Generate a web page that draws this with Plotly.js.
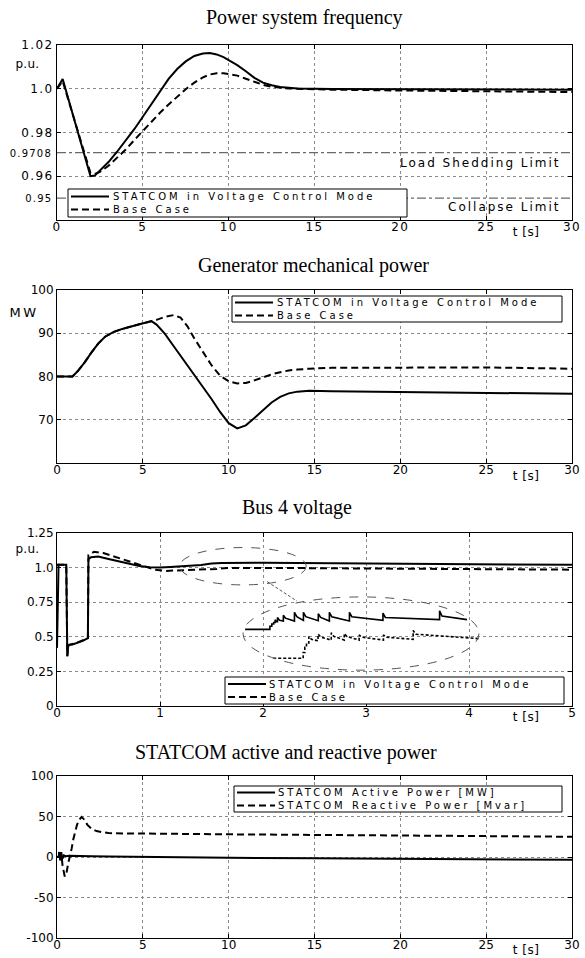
<!DOCTYPE html>
<html>
<head>
<meta charset="utf-8">
<script src="https://cdn.plot.ly/plotly-3.0.1.min.js"></script>
<style>
html,body{margin:0;padding:0;background:#fff;}
#chart{width:585px;height:958px;}
.xtick text, .ytick text { letter-spacing: 1.4px; }
</style>
</head>
<body>
<div id="chart"></div>
<script>
// ---------------- DATA ----------------
// Panel 1: Power system frequency (p.u.)
const freqT = [0, 0.15, 0.33, 0.6, 1.0, 1.4, 1.7, 1.95, 2.2, 2.5, 3.0, 3.5, 4.0, 4.5, 5.0, 5.5, 6.0, 6.5, 7.0, 7.5, 8.0, 8.5, 8.9, 9.3, 9.7, 10.1, 10.5, 11.0, 11.5, 12.0, 12.5, 13.0, 13.5, 14.0, 16.0, 20.0, 25.0, 30.0];
const freqStatcom = [1.0000, 1.0020, 1.0045, 0.9970, 0.9860, 0.9750, 0.9665, 0.9600, 0.9603, 0.9625, 0.9665, 0.9712, 0.9762, 0.9815, 0.9872, 0.9930, 0.9990, 1.0045, 1.0090, 1.0125, 1.0150, 1.0161, 1.0163, 1.0157, 1.0145, 1.0128, 1.0108, 1.0080, 1.0050, 1.0028, 1.0016, 1.0008, 1.0003, 1.0001, 0.9999, 0.9997, 0.9996, 0.9995];
const freqBase = [1.0000, 1.0018, 1.0035, 0.9965, 0.9860, 0.9752, 0.9672, 0.9615, 0.9610, 0.9620, 0.9648, 0.9685, 0.9722, 0.9765, 0.9808, 0.9850, 0.9890, 0.9928, 0.9964, 0.9998, 1.0028, 1.0052, 1.0065, 1.0071, 1.0071, 1.0066, 1.0060, 1.0046, 1.0032, 1.0018, 1.0009, 1.0004, 1.0001, 1.0000, 0.9996, 0.9992, 0.9988, 0.9985];
const limitValues = [0.9708, 0.95];
const limitLabels = ['Load Shedding Limit', 'Collapse Limit'];
const freqTicks = [0.96, 0.98, 1.0, 1.02];
const freqTickText = ['0.96', '0.98', '1.0', '1.02'];
const freqExtraTickText = ['0.9708', '0.95'];

// Panel 2: Generator mechanical power (MW)
const mechT = [0, 0.9, 1.2, 1.6, 2.0, 2.4, 2.8, 3.3, 3.8, 4.3, 4.8, 5.2, 5.5, 5.8, 6.3, 6.8, 7.2, 7.6, 8.0, 8.5, 9.0, 9.5, 10.0, 10.5, 11.0, 11.5, 12.0, 12.5, 13.0, 13.5, 14.0, 14.7, 16, 20, 25, 30];
const mechStatcom = [80, 80, 81.2, 83.2, 85.5, 87.6, 89.2, 90.3, 91.0, 91.6, 92.1, 92.5, 92.8, 92.0, 89.8, 87.0, 84.8, 82.6, 80.4, 77.6, 74.8, 71.8, 69.2, 68.0, 68.7, 70.4, 72.3, 74.0, 75.3, 76.1, 76.5, 76.7, 76.6, 76.4, 76.2, 76.0];
const mechBase = [80, 80, 81.2, 83.2, 85.5, 87.6, 89.2, 90.3, 91.0, 91.6, 92.1, 92.5, 92.8, 93.1, 93.8, 94.2, 93.6, 91.6, 88.8, 85.6, 82.6, 80.2, 78.9, 78.4, 78.5, 79.1, 79.8, 80.5, 81.0, 81.4, 81.6, 81.8, 82.0, 82.1, 82.1, 81.8];
const mechTicks = [70, 80, 90, 100];

// Panel 3: Bus 4 voltage (p.u.), t in s
const busTStatcom = [0, 0.015, 0.09, 0.092, 0.096, 0.1, 0.105, 0.11, 0.15, 0.2, 0.25, 0.3, 0.305, 0.33, 0.4, 0.5, 0.6, 0.7, 0.8, 0.9, 1.0, 1.1, 1.2, 1.3, 1.4, 1.5, 1.6, 2.0, 2.5, 3.0, 3.5, 4.0, 4.5, 5.0];
const busStatcom = [0.42, 1.02, 1.02, 0.78, 0.50, 0.36, 0.40, 0.44, 0.445, 0.455, 0.47, 0.49, 1.06, 1.075, 1.08, 1.062, 1.045, 1.028, 1.012, 1.002, 1.0, 1.004, 1.008, 1.012, 1.018, 1.030, 1.034, 1.035, 1.032, 1.029, 1.027, 1.025, 1.023, 1.02];
const busTBase = [0, 0.09, 0.1, 0.11, 0.2, 0.3, 0.305, 0.36, 0.45, 0.55, 0.65, 0.75, 0.85, 0.95, 1.05, 1.15, 1.3, 1.45, 1.55, 1.65, 2.0, 2.5, 3.0, 3.5, 4.0, 4.5, 5.0];
const busBase = [1.02, 1.02, 0.36, 0.44, 0.46, 0.49, 1.09, 1.115, 1.105, 1.08, 1.055, 1.03, 1.008, 0.985, 0.976, 0.98, 0.985, 0.988, 0.99, 0.997, 0.998, 0.996, 0.994, 0.992, 0.99, 0.987, 0.985];
const busTicks = [0, 0.25, 0.5, 0.75, 1.0, 1.25];
const busTickText = ['0', '0.25', '0.5', '0.75', '1.0', '1.25'];
// magnified detail (inset units 0..100)
const insetStatcomU = [0.9, 11.4, 11.4, 12.2, 12.2, 13.0, 13.0, 13.6, 13.6, 14.2, 14.6, 14.6, 15.5, 17.1, 17.1, 18.0, 21.8, 21.8, 22.8, 25.6, 25.6, 26.6, 31.9, 31.9, 32.9, 36.6, 36.6, 37.6, 45.1, 45.1, 46.1, 59.3, 59.3, 60.3, 83.3, 83.3, 84.3, 94.9];
const insetStatcomW = [55.7, 55.7, 60, 60, 63, 63, 65, 65, 69, 66, 66, 72, 68, 67, 75, 71, 67, 79, 73, 68, 79, 73, 67.5, 77, 72, 67, 79, 73, 67, 79, 73, 68, 78, 72, 69, 81, 74, 69];
const insetBaseU = [12.8, 25.5, 25.5, 26.2, 26.2, 26.9, 26.9, 27.9, 27.9, 29.0, 31.8, 31.8, 33.0, 37.4, 37.4, 38.5, 42.9, 42.9, 44.0, 49.2, 49.2, 50.3, 59.5, 59.5, 60.6, 72.1, 72.1, 73.2, 99.8];
const insetBaseW = [16, 16, 24, 24, 31, 31, 37, 37, 46, 42, 40, 49, 45, 41, 51, 46, 41, 50, 46, 41, 48, 45, 41, 48, 45, 42, 54, 49, 43];

// Panel 4: STATCOM active and reactive power
const pT = [0, 0.1, 0.13, 0.2, 0.26, 0.32, 0.4, 0.5, 0.7, 1.0, 2.0, 3.0, 5.0, 8.0, 10, 15, 20, 25, 30];
const pActive = [0, 0, 6, -4, 3, -2, 2, 1, 1.5, 1.2, 1.0, 0.5, 0, -0.5, -1, -1.5, -2, -3, -3.5];
const qT = [0, 0.1, 0.15, 0.2, 0.25, 0.32, 0.45, 0.55, 0.65, 0.75, 0.85, 0.95, 1.05, 1.17, 1.3, 1.43, 1.6, 1.76, 2.0, 2.3, 2.7, 3.0, 4.0, 5.0, 10, 15, 20, 25, 30];
const qReactive = [0, 0, 8, -4, 6, -10, -24, -20, -8, 0, 10, 22, 32, 40, 46, 49.5, 46, 40, 35, 32, 30.5, 29.5, 29, 29, 28, 27.5, 26.5, 25.8, 25];
const powTicks = [-100, -50, 0, 50, 100];
const powTickText = ['-100', '-50', '0', '50', '100'];

const xTicks30 = [0, 5, 10, 15, 20, 25, 30];
const xTicks5 = [0, 1, 2, 3, 4, 5];

const titles = ['Power system frequency', 'Generator mechanical power', 'Bus 4 voltage', 'STATCOM active and reactive power'];
const legendMain = ['STATCOM in Voltage Control Mode', 'Base Case'];
const legendPower = ['STATCOM Active Power [MW]', 'STATCOM Reactive Power [Mvar]'];

// ---------------- LAYOUT HELPERS ----------------
const W = 585, H = 958;
const px = x => x / W;
const py = y => 1 - y / H;
const dom = (top, bottom) => [1 - bottom / H, 1 - top / H];
const SANS = 'DejaVu Sans, Arial, sans-serif';
const SERIF = 'Liberation Serif, Times New Roman, serif';
const solidLine = {color: '#000', width: 2};
const dashLine = {color: '#000', width: 2, dash: '7px,4px'};

function xAxis(anchor, range, ticks) {
  return {domain: [57 / W, 572 / W], anchor, range, tickmode: 'array', tickvals: ticks,
    ticktext: ticks.map(String), showgrid: true, gridcolor: '#8a8a8a', griddash: 'dot', gridwidth: 1,
    zeroline: false, showline: true, linecolor: '#000', linewidth: 1, mirror: 'ticks',
    ticks: 'inside', ticklen: 4, tickcolor: '#000', tickfont: {family: SANS, size: 12, color: '#000'},
    ticklabelstandoff: -4, fixedrange: true};
}
function yAxis(anchor, domain, range, ticks, text) {
  return {domain, anchor, range, tickmode: 'array', tickvals: ticks, ticktext: text,
    showgrid: true, gridcolor: '#8a8a8a', griddash: 'dot', gridwidth: 1,
    zeroline: false, showline: true, linecolor: '#000', linewidth: 1, mirror: 'ticks',
    ticks: 'inside', ticklen: 4, tickcolor: '#000', tickfont: {family: SANS, size: 12, color: '#000'},
    fixedrange: true};
}

const data = [];
// Panel 1
limitValues.forEach(v => data.push({x: [0, 30], y: [v, v], xaxis: 'x', yaxis: 'y', mode: 'lines',
  line: {color: '#6a6a6a', width: 1.2, dash: 'dashdot'}, hoverinfo: 'skip'}));
data.push({x: freqT, y: freqBase, xaxis: 'x', yaxis: 'y', mode: 'lines', line: dashLine, name: legendMain[1]});
data.push({x: freqT, y: freqStatcom, xaxis: 'x', yaxis: 'y', mode: 'lines', line: solidLine, name: legendMain[0]});
// Panel 2
data.push({x: mechT, y: mechBase, xaxis: 'x2', yaxis: 'y2', mode: 'lines', line: dashLine, name: legendMain[1]});
data.push({x: mechT, y: mechStatcom, xaxis: 'x2', yaxis: 'y2', mode: 'lines', line: solidLine, name: legendMain[0]});
// Panel 3
data.push({x: busTBase, y: busBase, xaxis: 'x3', yaxis: 'y3', mode: 'lines', line: dashLine, name: legendMain[1]});
data.push({x: busTStatcom, y: busStatcom, xaxis: 'x3', yaxis: 'y3', mode: 'lines', line: solidLine, name: legendMain[0]});
data.push({x: insetStatcomU, y: insetStatcomW, xaxis: 'x5', yaxis: 'y5', mode: 'lines', line: {color: '#000', width: 1.6}});
data.push({x: insetBaseU, y: insetBaseW, xaxis: 'x5', yaxis: 'y5', mode: 'lines', line: {color: '#000', width: 1.6, dash: '3px,2px'}});
// Panel 4
data.push({x: pT, y: pActive, xaxis: 'x4', yaxis: 'y4', mode: 'lines', line: solidLine, name: legendPower[0]});
data.push({x: qT, y: qReactive, xaxis: 'x4', yaxis: 'y4', mode: 'lines', line: dashLine, name: legendPower[1]});

const shapes = [];
const annotations = [];
function note(text, x, y, opts) {
  annotations.push(Object.assign({text, x: px(x), y: py(y), xref: 'paper', yref: 'paper', showarrow: false,
    xanchor: 'center', yanchor: 'middle', font: {family: SANS, size: 12, color: '#000'}}, opts || {}));
}
function legendBox(x0, x1, y0, y1, rows, sx0, sx1, tx, labels) {
  shapes.push({type: 'rect', xref: 'paper', yref: 'paper', x0: px(x0), x1: px(x1), y0: py(y1), y1: py(y0),
    fillcolor: '#fff', line: {color: '#000', width: 1}});
  rows.forEach((ry, i) => {
    shapes.push({type: 'line', xref: 'paper', yref: 'paper', x0: px(sx0), x1: px(sx1), y0: py(ry), y1: py(ry),
      line: i === 0 ? {color: '#000', width: 2} : {color: '#000', width: 2, dash: '7px,4px'}});
    note(labels[i], tx, ry, {xanchor: 'left', align: 'left', borderpad: 0,
      font: {family: SANS, size: 10, color: '#000'}});
  });
}

// titles
note(titles[0], 304, 18, {font: {family: SERIF, size: 20, color: '#000'}});
note(titles[1], 313, 265, {font: {family: SERIF, size: 20, color: '#000'}});
note(titles[2], 297, 507, {font: {family: SERIF, size: 20, color: '#000'}});
note(titles[3], 286, 752, {font: {family: SERIF, size: 20, color: '#000'}});
// units
note('p.u.', 27, 64);
note('MW', 24, 312, {font: {family: SANS, size: 13, color: '#000'}});
note('p.u.', 27, 549);
[232, 476, 717, 950].forEach(y => note('t [s]', 526, y));
// limit labels and extra tick labels
note(limitLabels[0], 563, 163, {xanchor: 'right', align: 'right'});
note(limitLabels[1], 563, 207, {xanchor: 'right', align: 'right'});
note(freqExtraTickText[0], 54, 153, {xanchor: 'right', align: 'right', font: {family: SANS, size: 10, color: '#000'}});
note(freqExtraTickText[1], 54, 198, {xanchor: 'right', align: 'right', font: {family: SANS, size: 10, color: '#000'}});

// legends
legendBox(68, 407, 189, 217, [196.5, 209.5], 71, 109, 112, legendMain);
legendBox(232, 562, 296, 322, [302.5, 315.5], 235, 273, 276, legendMain);
legendBox(225, 564, 677, 704, [684, 697], 228, 266, 268, legendMain);
legendBox(234, 562, 786, 812, [792.5, 805.5], 237, 275, 277, legendPower);

// zoom ellipses in panel 3
shapes.push({type: 'circle', xref: 'x3', yref: 'y3', x0: 1.19, x1: 2.42, y0: 0.875, y1: 1.145,
  line: {color: '#555', width: 1, dash: 'dash'}});
shapes.push({type: 'circle', xref: 'x3', yref: 'y3', x0: 1.806, x1: 4.097, y0: 0.259, y1: 0.788,
  line: {color: '#555', width: 1, dash: 'dash'}});
shapes.push({type: 'line', xref: 'x3', yref: 'y3', x0: 2.04, x1: 2.33, y0: 0.899, y1: 0.758,
  line: {color: '#555', width: 1, dash: '3px,2px'}});

const layout = {
  width: W, height: H, margin: {l: 0, r: 0, t: 0, b: 0},
  paper_bgcolor: '#fff', plot_bgcolor: 'rgba(0,0,0,0)', showlegend: false,
  xaxis: xAxis('y', [0, 30], xTicks30),
  yaxis: yAxis('x', dom(45, 220), [0.94, 1.02], freqTicks, freqTickText),
  xaxis2: xAxis('y2', [0, 30], xTicks30),
  yaxis2: yAxis('x2', dom(290, 463), [60, 100], mechTicks, mechTicks.map(String)),
  xaxis3: xAxis('y3', [0, 5], xTicks5),
  yaxis3: yAxis('x3', dom(533, 706), [0, 1.25], busTicks, busTickText),
  xaxis4: xAxis('y4', [0, 30], xTicks30),
  yaxis4: yAxis('x4', dom(776, 938), [-100, 100], powTicks, powTickText),
  xaxis5: {domain: [243 / W, 479 / W], anchor: 'y5', range: [0, 100], visible: false, fixedrange: true},
  yaxis5: {domain: dom(597, 670), anchor: 'x5', range: [0, 100], visible: false, fixedrange: true},
  shapes, annotations
};

const spacing = {'Load Shedding Limit': 2, 'Collapse Limit': 2, 't [s]': 0.5, 'MW': 2.5, 'p.u.': 0.3,
  '0.9708': 1.2, '0.95': 1.2};
legendMain.concat(legendPower).forEach(t => spacing[t] = 3);

Plotly.newPlot('chart', data, layout, {staticPlot: true, displayModeBar: false}).then(gd => {
  gd.querySelectorAll('text.annotation-text').forEach(t => {
    const s = spacing[t.textContent];
    if (s) t.style.letterSpacing = s + 'px';
  });
});
</script>
</body>
</html>
